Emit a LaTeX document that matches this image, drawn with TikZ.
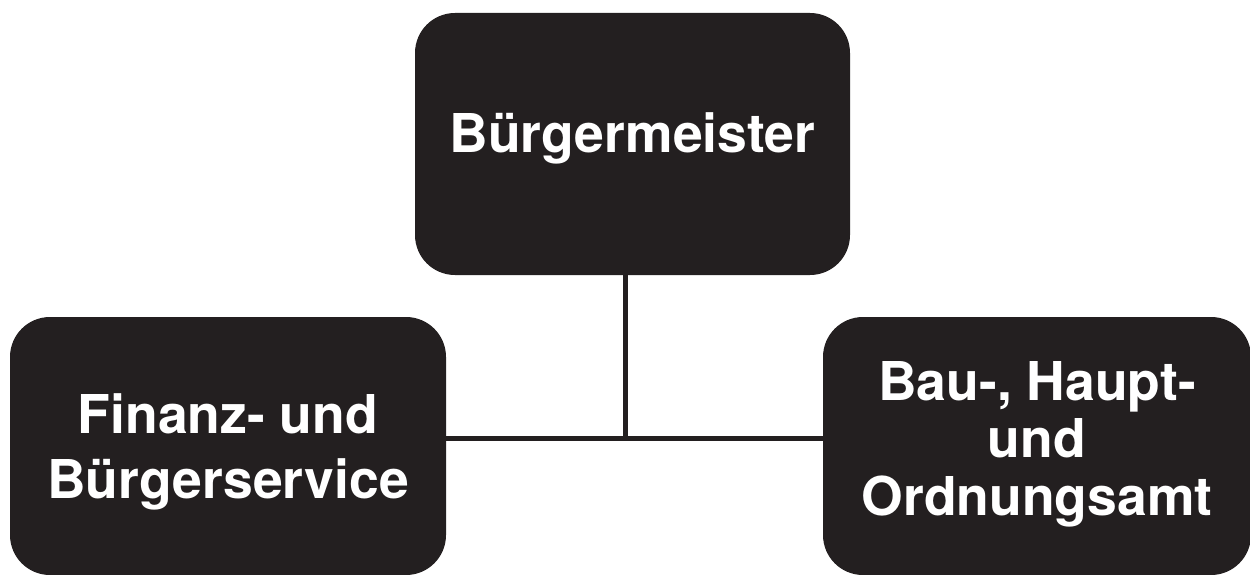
\documentclass[tikz,border=0pt]{standalone}
\usepackage{fontspec}
\setmainfont{TeX Gyre Heros}
\definecolor{boxdark}{HTML}{231F20}
\begin{document}
\begin{tikzpicture}[x=1pt,y=-1pt,
  orgbox/.style={draw=none, fill=boxdark, rounded corners=40pt, inner sep=0pt,
    text=white, align=center, font=\fontsize{53.5}{57.5}\selectfont\bfseries},
  link/.style={draw=boxdark, line width=5pt}]
\useasboundingbox (0,0) rectangle (1250,575);
\node[orgbox, minimum width=435pt, minimum height=262pt] (top) at (632.5,144)
  {\raisebox{-9pt}[0pt][0pt]{Bürgermeister}};
\node[orgbox, minimum width=436pt, minimum height=258pt] (left) at (228,446)
  {\raisebox{13pt}[0pt][0pt]{\begin{tabular}[t]{@{}c@{}}Finanz- und\\[7.5pt]Bürgerservice\end{tabular}}};
\node[orgbox, minimum width=428pt, minimum height=258pt] (right) at (1037,446)
  {\raisebox{46pt}[0pt][0pt]{\begin{tabular}[t]{@{}c@{}}Bau-, Haupt-\\und\\Ordnungsamt\end{tabular}}};
\coordinate (j) at (625,438);
\draw[link] (top.south -| j) -- (j);
\draw[link] (left.east |- j) -- (right.west |- j);
\end{tikzpicture}
\end{document}
